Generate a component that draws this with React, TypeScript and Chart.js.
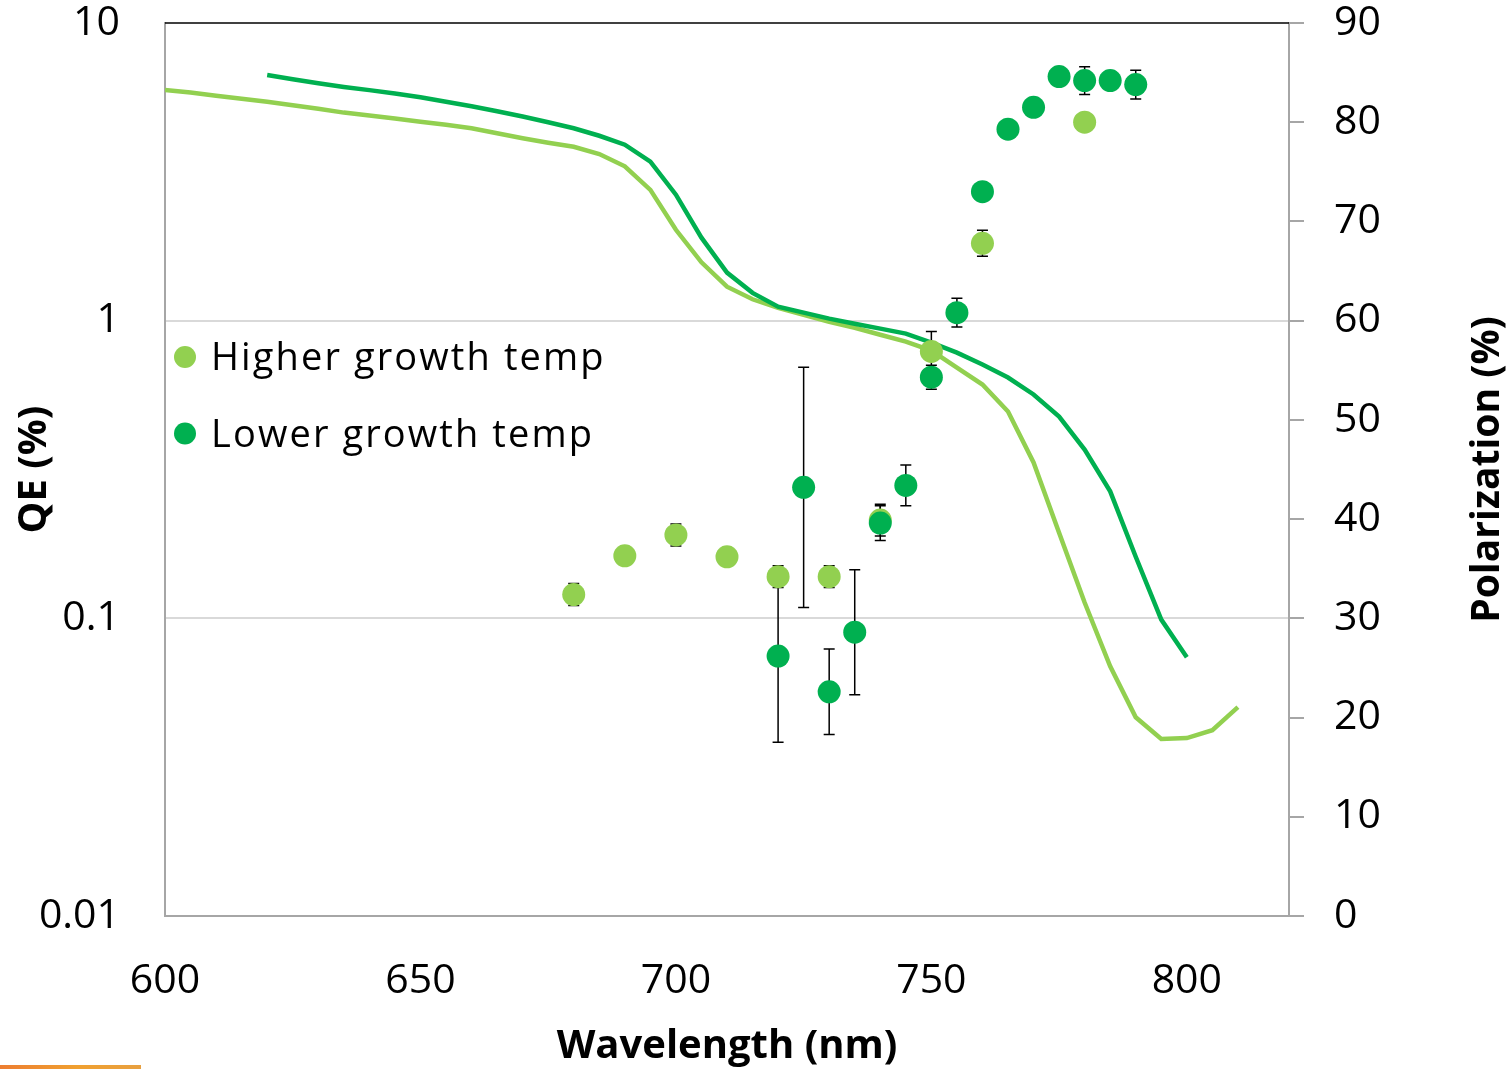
import React, { useEffect, useRef } from "react";
import { Chart, registerables } from "chart.js";

Chart.register(...registerables);

// ---------- DATA ----------
const seriesNames = ["Higher growth temp", "Lower growth temp"];

// QE curves (left, log axis)
const qeHigherX = [600, 605, 610, 615, 620, 625, 630, 635, 640, 645, 650, 655, 660, 665, 670, 675, 680, 685, 690, 695, 700, 705, 710, 715, 720, 725, 730, 735, 740, 745, 750, 755, 760, 765, 770, 775, 780, 785, 790, 795, 800, 805, 810];
const qeHigher = [5.96, 5.84, 5.70, 5.57, 5.44, 5.29, 5.15, 5.00, 4.89, 4.78, 4.66, 4.55, 4.43, 4.26, 4.10, 3.96, 3.84, 3.63, 3.30, 2.75, 2.02, 1.57, 1.30, 1.18, 1.105, 1.047, 0.992, 0.947, 0.897, 0.850, 0.793, 0.696, 0.610, 0.495, 0.334, 0.194, 0.113, 0.069, 0.0465, 0.0393, 0.0396, 0.0421, 0.0503];

const qeLowerX = [620, 625, 630, 635, 640, 645, 650, 655, 660, 665, 670, 675, 680, 685, 690, 695, 700, 705, 710, 715, 720, 725, 730, 735, 740, 745, 750, 755, 760, 765, 770, 775, 780, 785, 790, 795, 800];
const qeLower = [6.69, 6.47, 6.27, 6.10, 5.95, 5.80, 5.63, 5.44, 5.25, 5.05, 4.85, 4.64, 4.43, 4.18, 3.90, 3.42, 2.65, 1.90, 1.45, 1.24, 1.114, 1.064, 1.016, 0.977, 0.940, 0.905, 0.844, 0.781, 0.712, 0.644, 0.565, 0.476, 0.369, 0.267, 0.161, 0.099, 0.074];

// Polarization points (right axis) with symmetric error
const polHigherX = [680, 690, 700, 710, 720, 730, 740, 750, 760, 780];
const polHigher = [32.4, 36.3, 38.4, 36.2, 34.2, 34.2, 39.9, 56.9, 67.8, 80.0];
const polHigherErr = [1.1, 0.8, 1.1, 0.8, 1.1, 1.1, 1.6, 2.0, 1.3, 0.8];

const polLowerX = [720, 725, 730, 735, 740, 745, 750, 755, 760, 765, 770, 775, 780, 785, 790];
const polLower = [26.2, 43.2, 22.6, 28.6, 39.6, 43.4, 54.3, 60.8, 73.0, 79.3, 81.5, 84.6, 84.2, 84.2, 83.8];
const polLowerErr = [8.7, 12.1, 4.3, 6.3, 1.75, 2.05, 1.2, 1.45, 0.8, 0.8, 0.8, 0.8, 1.4, 0.8, 1.45];

// Axis ticks
const xTicks = [600, 650, 700, 750, 800];
const qeTicks = [0.01, 0.1, 1, 10];
const polTicks = [0, 10, 20, 30, 40, 50, 60, 70, 80, 90];

const LIGHT = "#92D050";
const DARK = "#00B050";
const AXIS_GRAY = "#a6a6a6";
const GRID_GRAY = "#d9d9d9";
const FONT = '"Open Sans", "DejaVu Sans", sans-serif';

const toPts = (xs: number[], ys: number[]) => xs.map((x, i) => ({ x, y: ys[i] }));

const errorBarPlugin = {
  id: "errorBars",
  beforeDatasetDraw(chart: any, args: any) {
    if (args.index !== 1) return; // draw before the scatter markers
    const ctx = chart.ctx;
    const xs = chart.scales.x;
    const ys = chart.scales.yPol;
    const groups = [
      [polHigherX, polHigher, polHigherErr],
      [polLowerX, polLower, polLowerErr],
    ];
    ctx.save();
    ctx.strokeStyle = "#000";
    ctx.lineWidth = 1.5;
    for (const [gx, gy, ge] of groups) {
      for (let i = 0; i < gx.length; i++) {
        const px = xs.getPixelForValue(gx[i]);
        const top = ys.getPixelForValue(gy[i] + ge[i]);
        const bot = ys.getPixelForValue(gy[i] - ge[i]);
        ctx.beginPath();
        ctx.moveTo(px, top);
        ctx.lineTo(px, bot);
        ctx.moveTo(px - 5.5, top);
        ctx.lineTo(px + 5.5, top);
        ctx.moveTo(px - 5.5, bot);
        ctx.lineTo(px + 5.5, bot);
        ctx.stroke();
      }
    }
    ctx.restore();
  },
};

const decorPlugin = {
  id: "decor",
  afterDraw(chart: any) {
    const ctx = chart.ctx;
    const { left, right, top, bottom } = chart.chartArea;
    ctx.save();
    // top border of plot
    ctx.strokeStyle = "#000";
    ctx.lineWidth = 1.5;
    ctx.beginPath();
    ctx.moveTo(left, top);
    ctx.lineTo(right, top);
    ctx.stroke();

    // legend inside plot
    const colors = [LIGHT, DARK];
    ctx.font = `38px ${FONT}`;
    (ctx as any).letterSpacing = "2.1px";
    ctx.textAlign = "left";
    ctx.textBaseline = "alphabetic";
    seriesNames.forEach((name, i) => {
      const cy = top + 334 + i * 76.5;
      ctx.fillStyle = colors[i];
      ctx.beginPath();
      ctx.arc(left + 20, cy, 11, 0, Math.PI * 2);
      ctx.fill();
      ctx.fillStyle = "#000";
      ctx.fillText(name, left + 46, cy + 13);
    });
    (ctx as any).letterSpacing = "0px";

    // right axis title, reading bottom to top
    ctx.font = `bold 39px ${FONT}`;
    ctx.textAlign = "center";
    ctx.textBaseline = "middle";
    ctx.fillStyle = "#000";
    ctx.translate(chart.width - 24, (top + bottom) / 2);
    ctx.rotate(-Math.PI / 2);
    ctx.fillText("Polarization (%)", 0, 0);
    ctx.restore();
  },
};

export default function App() {
  const ref = useRef<HTMLCanvasElement | null>(null);

  useEffect(() => {
    if (!ref.current) return;
    const chart = new Chart(ref.current, {
      type: "scatter",
      data: {
        datasets: [
          {
            label: seriesNames[1] + " (pol)",
            data: toPts(polLowerX, polLower),
            yAxisID: "yPol",
            backgroundColor: DARK,
            borderWidth: 0,
            pointRadius: 11.5,
            order: 0,
          },
          {
            label: seriesNames[0] + " (pol)",
            data: toPts(polHigherX, polHigher),
            yAxisID: "yPol",
            backgroundColor: LIGHT,
            borderWidth: 0,
            pointRadius: 11.5,
            order: 1,
          },
          {
            label: seriesNames[1] + " (QE)",
            data: toPts(qeLowerX, qeLower),
            yAxisID: "yQE",
            showLine: true,
            borderColor: DARK,
            borderWidth: 4.5,
            pointRadius: 0,
            tension: 0,
            order: 2,
          },
          {
            label: seriesNames[0] + " (QE)",
            data: toPts(qeHigherX, qeHigher),
            yAxisID: "yQE",
            showLine: true,
            borderColor: LIGHT,
            borderWidth: 4.5,
            pointRadius: 0,
            tension: 0,
            order: 3,
          },
        ] as any,
      },
      options: {
        animation: false,
        responsive: true,
        maintainAspectRatio: false,
        layout: { padding: { top: 23, left: 0, right: 0, bottom: 0 } },
        plugins: {
          legend: { display: false },
          tooltip: { enabled: false },
        },
        scales: {
          x: {
            type: "linear",
            min: 600,
            max: 820,
            afterBuildTicks: (s: any) => {
              s.ticks = xTicks.map((v) => ({ value: v }));
            },
            afterFit: (s: any) => {
              s.height = 153;
              s.paddingLeft = 0;
              s.paddingRight = 0;
            },
            grid: { display: false, drawTicks: false },
            border: { display: true, color: AXIS_GRAY, width: 2 },
            ticks: {
              padding: 45,
              color: "#000",
              font: { family: FONT, size: 41, lineHeight: 1 },
              maxRotation: 0,
            },
            title: {
              display: true,
              text: "Wavelength (nm)",
              color: "#000",
              font: { family: FONT, size: 40, weight: "bold", lineHeight: 1.2 },
              padding: { top: 0, bottom: -2 },
            },
          },
          yQE: {
            type: "logarithmic",
            position: "left",
            min: 0.01,
            max: 10,
            afterBuildTicks: (s: any) => {
              s.ticks = qeTicks.map((v) => ({ value: v }));
            },
            afterFit: (s: any) => {
              s.width = 165;
              s.paddingTop = 0;
              s.paddingBottom = 0;
            },
            grid: {
              drawTicks: false,
              lineWidth: 2,
              color: (c: any) =>
                c.tick && (c.tick.value === 0.1 || c.tick.value === 1) ? GRID_GRAY : "rgba(0,0,0,0)",
            },
            border: { display: true, color: AXIS_GRAY, width: 2 },
            ticks: {
              padding: 45,
              color: "#000",
              font: { family: FONT, size: 41, lineHeight: 1 },
              callback: (v: any) => String(v),
            },
            title: {
              display: true,
              text: "QE (%)",
              color: "#000",
              font: { family: FONT, size: 40, weight: "bold", lineHeight: 1.2 },
              padding: { top: 11, bottom: 0 },
            },
          },
          yPol: {
            type: "linear",
            position: "right",
            min: 0,
            max: 90,
            afterBuildTicks: (s: any) => {
              s.ticks = polTicks.map((v) => ({ value: v }));
            },
            afterFit: (s: any) => {
              s.width = 223;
              s.paddingTop = 0;
              s.paddingBottom = 0;
            },
            grid: {
              drawOnChartArea: false,
              drawTicks: true,
              tickLength: 15,
              color: AXIS_GRAY,
              lineWidth: 2,
            },
            border: { display: true, color: AXIS_GRAY, width: 2 },
            ticks: {
              padding: 30,
              color: "#000",
              font: { family: FONT, size: 41, lineHeight: 1 },
            },
          },
        },
      } as any,
      plugins: [errorBarPlugin, decorPlugin],
    });
    return () => chart.destroy();
  }, []);

  return (
    <>
      <div style={{ position: "absolute", left: 0, top: 0, width: 1512, height: 1069 }}>
        <canvas ref={ref} />
      </div>
      <div
        style={{
          position: "absolute",
          left: 0,
          top: 1065,
          width: 141,
          height: 4,
          background: "linear-gradient(90deg, #ed7d31 0%, #f0a030 55%, #e8a040 100%)",
        }}
      />
    </>
  );
}
